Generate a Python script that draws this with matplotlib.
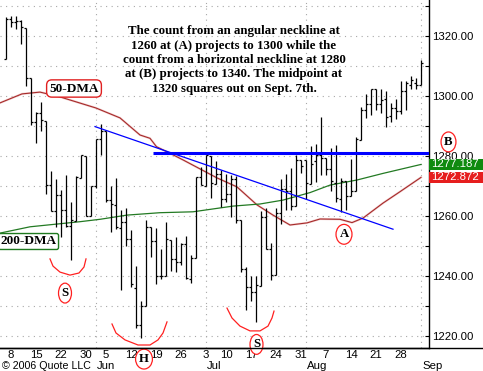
import numpy as np
import matplotlib.pyplot as plt
import matplotlib.transforms as mtransforms
from matplotlib.lines import Line2D
from matplotlib.patches import Rectangle

# daily bars, trading days May 5 - Sep 1 2006 (index 0 = May 5)
opens = [1312.3, 1325.8, 1324.7, 1325.1, 1322.6, 1305.9, 1291.2, 1294.5, 1291.7, 1270.3,
         1261.8, 1267.0, 1262.1, 1256.6, 1258.4, 1272.7, 1280.0, 1260.0, 1270.1, 1285.7,
         1288.2, 1265.2, 1263.6, 1256.1, 1257.9, 1252.3, 1236.1, 1223.7, 1230.0, 1256.2,
         1251.5, 1240.1, 1240.1, 1251.9, 1245.6, 1244.5, 1250.6, 1239.0, 1245.9, 1272.9,
         1270.1, 1280.1, 1270.6, 1274.1, 1265.5, 1267.3, 1272.4, 1258.6, 1242.3, 1236.2,
         1234.5, 1236.7, 1259.8, 1249.1, 1240.3, 1260.9, 1268.9, 1268.2, 1263.2, 1278.5,
         1278.5, 1270.7, 1278.2, 1280.3, 1279.3, 1275.7, 1271.1, 1265.7, 1271.6, 1266.7,
         1268.2, 1285.3, 1295.4, 1297.5, 1302.3, 1297.5, 1299.0, 1293.2, 1295.9, 1295.1,
         1301.6, 1303.7, 1304.3, 1303.8]
highs = [1326.5, 1326.7, 1326.6, 1325.5, 1322.6, 1305.9, 1294.8, 1297.9, 1291.7, 1274.9,
         1272.2, 1268.8, 1273.7, 1264.5, 1273.3, 1280.5, 1280.0, 1270.1, 1285.7, 1290.7,
         1288.2, 1269.9, 1272.5, 1262.0, 1262.6, 1255.2, 1243.4, 1231.5, 1258.6, 1256.3,
         1255.9, 1249.0, 1258.0, 1251.9, 1253.1, 1250.9, 1253.4, 1247.1, 1272.9, 1276.3,
         1280.4, 1280.1, 1278.3, 1275.4, 1274.1, 1273.6, 1273.3, 1258.6, 1242.9, 1240.1,
         1239.9, 1261.8, 1262.6, 1251.0, 1262.5, 1272.4, 1273.9, 1275.9, 1280.4, 1278.7,
         1278.5, 1283.4, 1284.0, 1292.9, 1279.3, 1282.8, 1283.7, 1272.6, 1271.6, 1278.9,
         1286.2, 1296.2, 1300.8, 1302.3, 1302.3, 1302.5, 1301.6, 1297.6, 1298.9, 1305.0,
         1305.0, 1306.7, 1306.1, 1312.0]
lows = [1312.3, 1322.9, 1322.5, 1317.4, 1303.5, 1290.4, 1284.5, 1288.5, 1267.3, 1261.8,
        1256.3, 1253.0, 1256.2, 1245.3, 1258.4, 1272.5, 1259.9, 1259.9, 1269.2, 1280.2,
        1264.7, 1254.5, 1255.8, 1235.2, 1250.0, 1236.4, 1222.5, 1219.3, 1230.0, 1246.3,
        1237.2, 1238.9, 1240.1, 1241.5, 1241.4, 1243.7, 1238.9, 1237.6, 1245.9, 1270.2,
        1270.1, 1265.9, 1270.6, 1263.1, 1264.5, 1259.7, 1257.8, 1241.4, 1228.5, 1231.5,
        1224.5, 1236.7, 1249.0, 1238.7, 1240.3, 1257.2, 1261.9, 1261.9, 1263.2, 1274.3,
        1265.7, 1270.7, 1271.3, 1273.8, 1273.8, 1268.4, 1264.7, 1261.3, 1262.1, 1266.7,
        1268.2, 1285.3, 1292.7, 1293.6, 1295.5, 1294.4, 1289.8, 1291.4, 1292.4, 1294.0,
        1295.3, 1302.2, 1302.4, 1303.8]
closes = [1325.8, 1324.7, 1325.1, 1322.9, 1305.9, 1291.2, 1294.5, 1292.1, 1270.3, 1261.8,
          1267.0, 1262.1, 1256.6, 1258.6, 1272.9, 1280.2, 1259.9, 1270.1, 1285.7, 1288.2,
          1265.3, 1263.9, 1256.2, 1257.9, 1252.3, 1237.4, 1223.7, 1230.0, 1256.2, 1251.5,
          1240.1, 1240.1, 1252.2, 1245.6, 1244.5, 1250.6, 1239.2, 1246.0, 1272.9, 1270.2,
          1280.2, 1270.9, 1274.1, 1265.5, 1267.3, 1272.4, 1258.6, 1242.3, 1236.2, 1234.5,
          1236.9, 1259.8, 1249.1, 1240.3, 1260.9, 1268.9, 1268.4, 1263.2, 1278.6, 1276.7,
          1270.9, 1277.4, 1280.3, 1279.4, 1275.8, 1271.5, 1266.0, 1271.8, 1266.7, 1268.2,
          1285.6, 1295.4, 1297.5, 1302.3, 1297.5, 1298.8, 1293.0, 1296.1, 1295.1, 1301.8,
          1304.3, 1305.4, 1303.8, 1311.0]

# moving averages at a few bar positions
ma50_idx = [-1.2, 3.2, 6.8, 10.8, 18, 22.8, 26.8, 28.8, 30.1, 32.8, 35.4, 42.2, 46.2,
            50.2, 53.4, 56.8, 60.2, 62.8, 66.8, 69.2, 71.4, 75.4, 78.8, 83]
ma50_val = [1297.7, 1300.7, 1301.3, 1299.7, 1296.0, 1292.7, 1287.0, 1285.9, 1283.1, 1280.9,
            1278.7, 1272.7, 1269.7, 1263.7, 1260.3, 1257.0, 1257.7, 1259.0, 1258.9, 1257.8,
            1259.3, 1264.3, 1268.1, 1272.872]
ma200_idx = [-1.2, 4.8, 14.8, 18.8, 24.2, 30.8, 37.4, 45.4, 50.8, 55.4, 60.8, 64.8, 70.2,
             75.4, 83]
ma200_val = [1254.3, 1256.4, 1258.1, 1258.9, 1260.3, 1261.1, 1261.4, 1263.3, 1264.0, 1265.3,
             1267.8, 1270.3, 1272.0, 1274.2, 1277.187]

day_ticks = [1, 6, 11, 16, 20, 25, 30, 35, 40, 44, 49, 54, 59, 64, 69, 74, 79]
day_labels = ['8', '15', '22', '30', '5', '12', '19', '26', '3', '10', '17', '24', '31',
              '7', '14', '21', '28']
month_starts = [18, 40, 60, 83]
month_labels = ['Jun', 'Jul', 'Aug', 'Sep']

# necklines
angular_x = [17.8, 77.4]
angular_y = [1289.8, 1255.6]
horiz_start = 29.4
horiz_level = 1281.0

# head & shoulders marks
letters = {'S1': ('S', 11.8, 1234.3), 'H': ('H', 27.6, 1212.3), 'S2': ('S', 50.1, 1217.2),
           'A': ('A', 67.6, 1253.9), 'B': ('B', 88.5, 1284.7)}
smile_left = ([8.8, 9.4, 10.8, 12.8, 14.6, 15.6, 16.0],
              [1245.7, 1243.3, 1241.3, 1240.3, 1241.0, 1243.0, 1245.7])
smile_head = ([21.2, 22.0, 23.8, 26.4, 28.8, 30.4, 31.4, 32.2],
              [1224.0, 1221.0, 1218.7, 1217.0, 1217.0, 1218.7, 1221.0, 1224.7])
smile_right = ([44.2, 45.2, 46.8, 48.8, 50.8, 52.4, 53.2, 53.6],
               [1229.3, 1226.0, 1223.3, 1221.7, 1221.7, 1223.3, 1226.0, 1228.3])

note = ("The count from an angular neckline at\n"
        "1260 at (A) projects to 1300 while the\n"
        "count from a horizontal neckline at 1280\n"
        "at (B) projects to 1340. The midpoint at\n"
        "1320 squares out on Sept. 7th.")

SERIF = 'Liberation Serif'
SANS = 'Liberation Sans'

W, H = 483, 371
fig = plt.figure(figsize=(W / 100, H / 100), dpi=100)
bot = 23.3 / H
ax = fig.add_axes([0, bot, 429 / W, 1 - bot])
ax.set_xlim(-1.2, 84.6)
ax.set_ylim(1216.1, 1332)

for s in ['left', 'top']:
    ax.spines[s].set_visible(False)
ax.spines['right'].set_linewidth(1)
ax.spines['bottom'].set_linewidth(1)
fig.add_artist(Line2D([0, 1], [bot, bot], transform=fig.transFigure, color='black', lw=1))

# grid
ax.set_yticks(np.arange(1220, 1331, 20))
ax.set_yticks(np.arange(1230, 1331, 20), minor=True)
ax.grid(axis='y', which='both', color='#a8a8a8', ls=(0, (1, 4)), lw=0.8)
for m in month_starts:
    ax.axvline(m, color='#a8a8a8', ls=(0, (1, 4)), lw=0.8, zorder=0.5)

ax.yaxis.tick_right()
ax.yaxis.set_major_formatter(plt.FormatStrFormatter('%.2f'))
ax.tick_params(axis='y', which='both', direction='in', length=3, width=0.8,
               pad=2, labelsize=8.2)
for t in ax.get_yticklabels():
    t.set_fontfamily(SANS)

ax.set_xticks(day_ticks, day_labels)
ax.tick_params(axis='x', length=0, pad=2, labelsize=8.2)
for t in ax.get_xticklabels():
    t.set_fontfamily(SANS)

trans_mon = mtransforms.blended_transform_factory(ax.transData, fig.transFigure)
for m, lab in zip(month_starts, month_labels):
    ax.text(m + 0.2, 5 / H, lab, transform=trans_mon, ha='left', va='center',
            fontsize=8.2, family=SANS, clip_on=False)
fig.text(2 / W, 5 / H, '\u00a9 2006 Quote LLC', ha='left', va='center',
         fontsize=7.7, family=SANS)

# price bars
x = np.arange(len(closes))
ax.vlines(x, lows, highs, color='black', lw=0.9, zorder=3)
ax.hlines(opens, x - 0.45, x, color='black', lw=0.9, zorder=3)
ax.hlines(closes, x, x + 0.45, color='black', lw=0.9, zorder=3)

# moving averages
ax.plot(ma50_idx, ma50_val, color='#f4d2d2', lw=1.6, zorder=2)
ax.plot(ma50_idx, ma50_val, color='#a52a2a', lw=0.8, zorder=2.1)
ax.plot(ma200_idx, ma200_val, color='#237a23', lw=0.9, zorder=2.1)

# necklines
ax.plot(angular_x, angular_y, color='#0000ff', lw=0.9, zorder=4)
ax.hlines(horiz_level, horiz_start, ax.get_xlim()[1], color='#0000ff', lw=2.2, zorder=4)

# labels on the averages
ax.text(13.6, 1302.5, '50-DMA', ha='center', va='center', fontsize=9.5, family=SERIF,
        weight='bold', zorder=6,
        bbox=dict(boxstyle='round,pad=0.2,rounding_size=0.4', fc='white', ec='#e02020', lw=1))
ax.text(4.5, 1251.5, '200-DMA', ha='center', va='center', fontsize=9.5, family=SERIF,
        weight='bold', zorder=6,
        bbox=dict(boxstyle='round,pad=0.15,rounding_size=0.15', fc='white', ec='#1f7a1f', lw=1))

# last value boxes on the price axis
trans_val = mtransforms.blended_transform_factory(ax.transAxes, ax.transData)
for val, col in [(ma200_val[-1], '#0f8a0f'), (ma50_val[-1], '#e61e1e')]:
    ax.add_patch(Rectangle((1.0, val - 1.85), 54 / 429, 3.7, transform=trans_val,
                           fc=col, ec='none', clip_on=False, zorder=10))
    ax.text(1.0 + 2 / 429, val, f'{val:.3f}', transform=trans_val, ha='left', va='center',
            color='white', fontsize=8.2, family=SANS, clip_on=False, zorder=11)

# head and shoulders notes
for xs, ys in [smile_left, smile_head, smile_right]:
    ax.plot(xs, ys, color='#ff2020', lw=0.9, clip_on=False, zorder=5)
for lab, lx, ly in letters.values():
    ax.text(lx, ly, lab, ha='center', va='center', fontsize=9.2, family=SERIF,
            weight='bold', clip_on=False, zorder=7,
            bbox=dict(boxstyle='ellipse,pad=0.08', fc='white', ec='#ff2020', lw=0.9))

ax.text(45.6, 1312, note, ha='center', va='center', multialignment='center',
        linespacing=1.27, fontsize=9.3, family=SERIF, weight='bold', zorder=6)

fig.savefig('out.png', dpi=100)
